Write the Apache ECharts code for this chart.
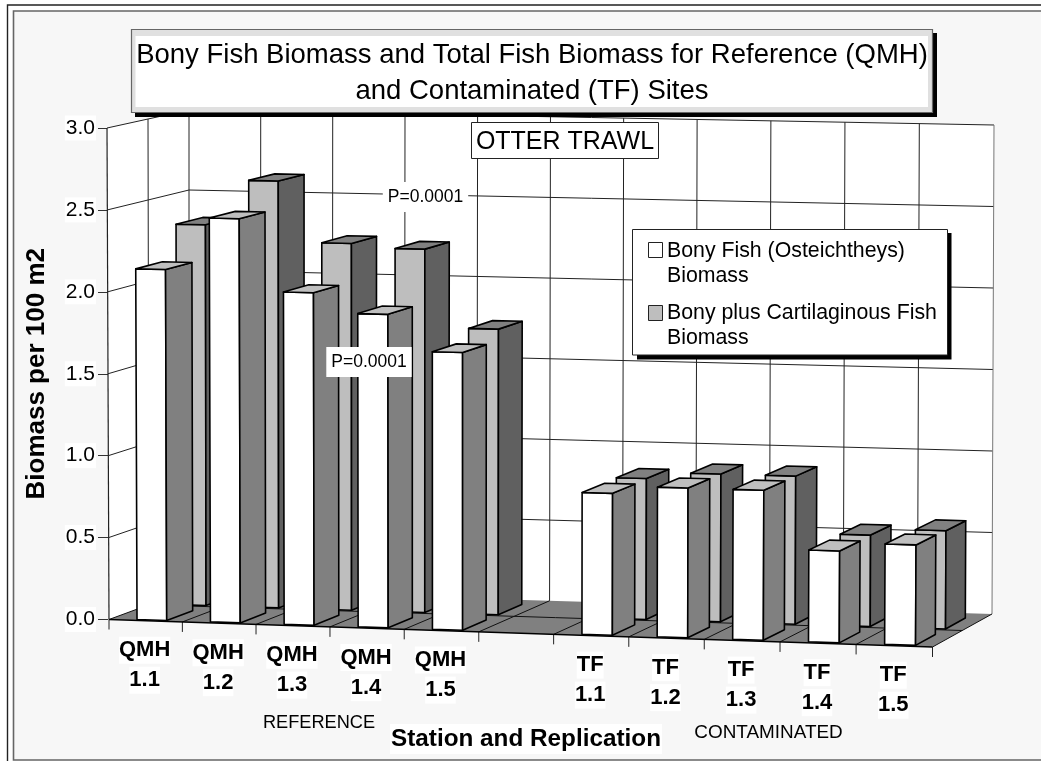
<!DOCTYPE html>
<html>
<head>
<meta charset="utf-8">
<style>html,body{margin:0;padding:0;background:#fff}#c{width:1041px;height:761px}</style>
<script src="https://cdn.jsdelivr.net/npm/echarts@6/dist/echarts.min.js"></script>
</head>
<body>
<div id="c"></div>
<script>
var stationLabels = ['QMH','QMH','QMH','QMH','QMH','','TF','TF','TF','TF','TF'];
var replLabels = ['1.1','1.2','1.3','1.4','1.5','','1.1','1.2','1.3','1.4','1.5'];
var bonyFish = [2.14,2.46,2.02,1.90,1.68,null,0.855,0.90,0.90,0.55,0.60];
var bonyPlusCart = [2.35,2.63,2.255,2.23,1.75,null,0.86,0.90,0.90,0.555,0.595];
var yTicks = [0,0.5,1,1.5,2,2.5,3];
var slotEdges = [0,1,2,3,4,5,6,7,8,9,10,11];
var seriesNames = ['Bony Fish (Osteichtheys)\nBiomass','Bony plus Cartilaginous Fish\nBiomass'];

var FONT = '"Liberation Sans", Arial, sans-serif';
var G = {left:108, top:128, width:824, height:491.5};
// box corners: [depth][value 0/top][slot 0/end]
var C = {
  flb:[109,619.5], frb:[932.5,647], flt:[107,128], frt:[935,144],
  blb:[189,590], brb:[992,614], blt:[189,110], brt:[994,125]
};
function warp(t){ return t/(t+1.0225*(1-t)); }
function lerp(a,b,t){ return [a[0]+(b[0]-a[0])*t, a[1]+(b[1]-a[1])*t]; }
function project(api,u,v,d){
  var p = api.coord([u,v]);
  var s = warp((p[0]-G.left)/G.width);
  var h = (G.top+G.height-p[1])/G.height;
  var fb = lerp(C.flb,C.frb,s), ft = lerp(C.flt,C.frt,s);
  var bb = lerp(C.blb,C.brb,s), bt = lerp(C.blt,C.brt,s);
  return lerp(lerp(fb,ft,h), lerp(bb,bt,h), d);
}
function poly(pts,fill,stroke,lw){
  return {type:'polygon',shape:{points:pts},style:{fill:fill,stroke:stroke||'#000',lineWidth:lw==null?1.6:lw,lineJoin:'round'}};
}
function seg(a,b,stroke,lw){
  return {type:'line',shape:{x1:a[0],y1:a[1],x2:b[0],y2:b[1]},style:{stroke:stroke||'#222',lineWidth:lw||1}};
}
function barRender(d0,d1,front,side,top){
  return function(params,api){
    var v = api.value(1);
    if (v==null || isNaN(v)) return null;
    var u0 = api.value(0)+0.35, u1 = u0+0.405;
    var P = function(u,val,d){ return project(api,u,val,d); };
    return {type:'group',children:[
      poly([P(u0,0,d0),P(u1,0,d0),P(u1,v,d0),P(u0,v,d0)],front),
      poly([P(u1,0,d0),P(u1,0,d1),P(u1,v,d1),P(u1,v,d0)],side),
      poly([P(u0,v,d0),P(u1,v,d0),P(u1,v,d1),P(u0,v,d1)],top)
    ]};
  };
}
function wallRender(params,api){
  var P = function(u,v,d){ return project(api,u,v,d); };
  var ch = [];
  ch.push(poly([P(0,0,0),P(0,0,1),P(0,3,1),P(0,3,0)],'#fff','none',0));
  ch.push(poly([P(0,0,1),P(11,0,1),P(11,3,1),P(0,3,1)],'#fff','none',0));
  ch.push(poly([P(0,0,0),P(11,0,0),P(11,0,1),P(0,0,1)],'#808080','none',0));
  yTicks.forEach(function(t){
    if (t>0) {
      ch.push(seg(P(0,t,0),P(0,t,1)));
      ch.push(seg(P(0,t,1),P(11,t,1)));
    }
  });
  slotEdges.forEach(function(u){
    ch.push(seg(P(u,0,1),P(u,3,1), u==11?'#777':'#222'));
    ch.push(seg(P(u,0,0),P(u,0,1),'#111'));
    var f = P(u,0,0);
    ch.push(seg(f,[f[0],f[1]+10],'#222'));
  });
  ch.push(seg(P(0,0,0.5),P(0,3,0.5)));
  ch.push(seg(P(0,0,0.5),P(11,0,0.5),'#111'));
  ch.push(seg(P(0,0,0),P(11,0,0),'#000',1.6));
  ch.push(seg(P(0,0,0),P(0,3,0),'#222',1.2));
  return {type:'group',children:ch};
}
function labelRender(params,api){
  var i = api.value(0);
  var st = stationLabels[i], rp = replLabels[i];
  if (!st) return null;
  var p = project(api,i+0.5,0,0);
  var mk = function(t,dy){
    return {type:'text',style:{text:t,x:p[0]-1,y:p[1]+dy,font:'bold 22px '+FONT,fill:'#000',
      align:'center',verticalAlign:'middle',backgroundColor:'#fff',padding:[3,0,2,0]}};
  };
  return {type:'group',children:[mk(st,29.5),mk(rp,59.5)]};
}
function idx(a){ return a.map(function(v,i){ return [i,v]; }); }
function rect(x,y,w,h,fill,stroke,z,lw){
  return {type:'rect',z:z,shape:{x:x,y:y,width:w,height:h},style:{fill:fill,stroke:stroke||'none',lineWidth:lw||1}};
}
function txt(t,x,y,size,z,opt){
  var s = {text:t,x:x,y:y,font:(opt&&opt.bold?'bold ':'')+size+'px '+FONT,fill:'#000',
    align:(opt&&opt.align)||'left',verticalAlign:'middle'};
  if (opt&&opt.bg){ s.backgroundColor=opt.bg; s.padding=opt.pad; }
  return {type:'text',z:z,style:s};
}
var chart = echarts.init(document.getElementById('c'),null,{renderer:'canvas',width:1041,height:761});
chart.setOption({
  animation:false,
  backgroundColor:'#fff',
  title:{
    text:'Bony Fish Biomass and Total Fish Biomass for Reference (QMH)\nand Contaminated (TF) Sites',
    left:532, top:37, textAlign:'center', z:30, padding:0,
    textStyle:{fontFamily:FONT,fontWeight:'normal',fontSize:27.5,lineHeight:36,color:'#000'}
  },
  grid:{left:G.left,top:G.top,width:G.width,height:G.height,containLabel:false},
  xAxis:{type:'value',min:0,max:11,interval:1,show:false},
  yAxis:{type:'value',min:0,max:3,interval:0.5,
    name:'Biomass per 100 m2',nameLocation:'middle',nameGap:58,nameRotate:90,
    nameTextStyle:{fontFamily:FONT,fontWeight:'bold',fontSize:26,color:'#000'},
    axisLine:{show:false},splitLine:{show:false},
    axisTick:{show:true,length:10,lineStyle:{color:'#333',width:1}},
    axisLabel:{margin:12,fontFamily:FONT,fontSize:21,color:'#000',backgroundColor:'#fff',padding:[2,1,2,1],
      formatter:function(v){return v.toFixed(1);}}
  },
  series:[
    {type:'custom',name:'walls',z:2,silent:true,renderItem:wallRender,data:[[0,0]],encode:{x:0,y:1}},
    {type:'custom',name:seriesNames[1],z:3,renderItem:barRender(0.53,0.86,'#bebebe','#606060','#808080'),data:idx(bonyPlusCart),encode:{x:0,y:1}},
    {type:'custom',name:seriesNames[0],z:4,renderItem:barRender(0.03,0.36,'#ffffff','#808080','#bfbfbf'),data:idx(bonyFish),encode:{x:0,y:1}},
    {type:'custom',name:'labels',z:5,silent:true,renderItem:labelRender,data:idx(stationLabels.map(function(){return 0;})),encode:{x:0,y:1}}
  ],
  graphic:{elements:[
    // page frames (behind everything)
    rect(7.5,5,1040,770,'#fff','#222',-10,1.4),
    rect(13.5,11,1040,749,'#f7f7f7','#666',-9,1.6),
    // title box
    rect(135,33,802,84,'#000',null,20),
    rect(131.5,29.5,801,83,'#e0e0e0','#666',21,1.2),
    rect(135.5,36,792.5,71,'#fff',null,22),
    // otter trawl
    rect(471.5,122.5,187,36,'#fff','#222',20,1),
    txt('OTTER TRAWL',565,142,25,21,{align:'center'}),
    // P labels
    txt('P=0.0001',425.5,197,17.5,20,{align:'center',bg:'#fff',pad:[6,5,6,5]}),
    txt('P=0.0001',369,362,17.5,20,{align:'center',bg:'#fff',pad:[6,5,6,5]}),
    // legend
    rect(637,233,314.5,126.5,'#000',null,20),
    rect(632.5,229.5,315,125.5,'#fff','#222',21,1),
    rect(648.5,242.5,14,15,'#fff','#222',22,1),
    rect(648.5,305.5,14,15,'#bebebe','#222',22,1),
    txt('Bony Fish (Osteichtheys)',667,251,21.3,22),
    txt('Biomass',667,276,21.3,22),
    txt('Bony plus Cartilaginous Fish',667,313,21.3,22),
    txt('Biomass',667,338,21.3,22),
    // group & axis captions
    txt('REFERENCE',319,722.5,18.2,20,{align:'center'}),
    txt('CONTAMINATED',768.5,732.5,18.9,20,{align:'center'}),
    txt('Station and Replication',526,739,24.3,20,{align:'center',bold:true,bg:'#fff',pad:[3,1,3,1]})
  ]}
});
</script>
</body>
</html>
